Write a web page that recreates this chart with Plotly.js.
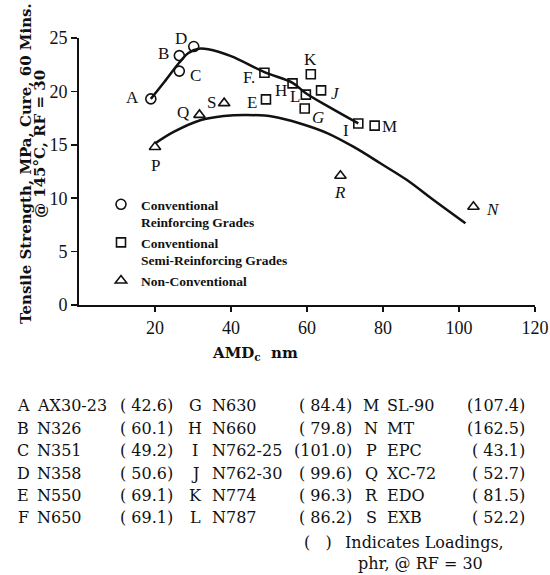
<!DOCTYPE html>
<html>
<head>
<meta charset="utf-8">
<script src="https://cdn.plot.ly/plotly-3.0.1.min.js"></script>
<style>
  html, body { margin: 0; padding: 0; background: #fff; }
  #chart { width: 550px; height: 575px; }
</style>
</head>
<body>
<div id="chart"></div>
<script>
// ---------- DATA ----------
const letters  = ['A','B','C','D','E','F','G','H','I','J','K','L','M','N','P','Q','R','S'];
const grades   = ['AX30-23','N326','N351','N358','N550','N650','N630','N660','N762-25','N762-30','N774','N787','SL-90','MT','EPC','XC-72','EDO','EXB'];
const loadings = ['42.6','60.1','49.2','50.6','69.1','69.1','84.4','79.8','101.0','99.6','96.3','86.2','107.4','162.5','43.1','52.7','81.5','52.2'];
const amd      = [18.9, 26.4, 26.4, 30.2, 49.2, 48.8, 59.4, 56.2, 73.5, 63.7, 61.0, 59.7, 77.8, 103.8, 20.0, 31.7, 68.8, 38.2];
const tensile  = [19.3, 23.35, 21.9, 24.2, 19.25, 21.75, 18.4, 20.75, 17.0, 20.1, 21.6, 19.7, 16.8, 9.2, 14.8, 17.8, 12.1, 18.9];
const group    = ['rf','rf','rf','rf','srf','srf','srf','srf','srf','srf','srf','srf','srf','nc','nc','nc','nc','nc'];
const groupNames = {
  rf:  'Conventional<br>Reinforcing Grades',
  srf: 'Conventional<br>Semi-Reinforcing Grades',
  nc:  'Non-Conventional'
};
const pointLabels = {F: 'F.', G: '<i>G</i>', J: '<i>J</i>', R: '<i>R</i>', N: '<i>N</i>'};

// trend curves
const upperX = [18.9, 22.5, 26.4, 28.8, 31.5, 34, 40, 48.8, 56.2, 59.6, 66, 73.5];
const upperY = [19.3, 20.9, 22.7, 23.6, 24.0, 23.95, 23.3, 21.8, 20.8, 19.85, 18.5, 17.0];
const lowerX = [20.1, 24.9, 31.9, 38.1, 44.2, 51.2, 58.2, 65.3, 72.3, 79.3, 86.3, 93.3, 101.7];
const lowerY = [15.14, 16.2, 17.3, 17.7, 17.8, 17.63, 17.0, 16.1, 14.8, 13.27, 11.7, 9.83, 7.65];

const xTicks = [20, 40, 60, 80, 100, 120];
const yTicks = [0, 5, 10, 15, 20, 25];

// ---------- STYLE ----------
const INK = '#111';
const symbols = {rf: 'circle-open', srf: 'square-open', nc: 'triangle-up-open'};
const sizes = {rf: 10, srf: 9, nc: 10};
// label offsets in pixels (dx right, dy down) relative to marker
const labelOff = {A:[-18,-1],B:[-16,-2],C:[16,4],D:[-13,-8],E:[-14,3],F:[-15,5],G:[13,9],H:[-12,7],
  I:[-12,7],J:[14,3],K:[0,-15],L:[-11,2],M:[15,1],N:[20,3],P:[0,19],Q:[-16,-2],R:[0,17],S:[-13,-1]};

const M = {l: 79, r: 15, t: 38, b: 270};
const W = 550 - M.l - M.r, H = 575 - M.t - M.b;
function px(x) { return (x - M.l) / W; }
function py(y) { return (575 - M.b - y) / H; }

const traces = [];
traces.push({x: upperX, y: upperY, mode: 'lines', line: {color: INK, width: 2.5, shape: 'spline'}, showlegend: false, hoverinfo: 'skip'});
traces.push({x: lowerX, y: lowerY, mode: 'lines', line: {color: INK, width: 2.5, shape: 'spline'}, showlegend: false, hoverinfo: 'skip'});

['rf','srf','nc'].forEach(g => {
  const idx = letters.map((_, i) => i).filter(i => group[i] === g);
  traces.push({
    x: idx.map(i => amd[i]),
    y: idx.map(i => tensile[i]),
    mode: 'markers',
    name: groupNames[g],
    cliponaxis: false,
    marker: {symbol: symbols[g], size: sizes[g], color: INK, line: {width: 1.6, color: INK}}
  });
});

// ---------- ANNOTATIONS ----------
const ann = [];
// point labels
letters.forEach((L, i) => {
  const o = labelOff[L];
  ann.push({xref: 'x', yref: 'y', x: amd[i], y: tensile[i], text: pointLabels[L] || L,
    showarrow: false, xanchor: 'center', yanchor: 'middle', xshift: o[0], yshift: -o[1],
    font: {family: 'Liberation Serif', size: 17, color: INK}});
});
const tFont = {family: 'DejaVu Serif', size: 15, color: INK};
// y axis title (two rotated lines)
ann.push({xref:'paper', yref:'paper', x: px(26), y: py(164), text: '<b>Tensile Strength, MPa, Cure, 60 Mins.</b>',
  textangle: -90, showarrow: false, xanchor: 'center', yanchor: 'middle', font: tFont});
ann.push({xref:'paper', yref:'paper', x: px(40), y: py(144), text: '<b>@ 145°C, RF = 30</b>',
  textangle: -90, showarrow: false, xanchor: 'center', yanchor: 'middle', font: tFont});
// x axis title
ann.push({xref:'paper', yref:'paper', x: px(255), y: py(353), text: '<b>AMD<sub>c</sub>  nm</b>',
  showarrow: false, xanchor: 'center', yanchor: 'middle', font: tFont});

// table of grades
const cols = [
  {letter: 23, name: 35, close: 175},
  {letter: 195, name: 210, close: 354},
  {letter: 371, name: 385, close: 527}
];
const rowsY = [405, 428, 450, 473, 495, 517];
const tabFont = {family: 'DejaVu Serif', size: 16, color: INK};
letters.forEach((L, i) => {
  const c = cols[Math.floor(i / 6)], yy = py(rowsY[i % 6]);
  const val = (parseFloat(loadings[i]) < 100 ? '( ' : '(') + loadings[i] + ')';
  ann.push({xref:'paper', yref:'paper', x: px(c.letter), y: yy, text: L, showarrow:false, xanchor:'center', yanchor:'middle', font: tabFont});
  ann.push({xref:'paper', yref:'paper', x: px(c.name), y: yy, text: grades[i], showarrow:false, xanchor:'left', yanchor:'middle', font: tabFont});
  ann.push({xref:'paper', yref:'paper', x: px(c.close), y: yy, text: val, showarrow:false, xanchor:'right', yanchor:'middle', font: tabFont});
});
ann.push({xref:'paper', yref:'paper', x: px(302), y: py(542), text: '(&nbsp;&nbsp;&nbsp;)', showarrow:false, xanchor:'left', yanchor:'middle', font: tabFont});
ann.push({xref:'paper', yref:'paper', x: px(424), y: py(542), text: 'Indicates Loadings,', showarrow:false, xanchor:'center', yanchor:'middle', font: tabFont});
ann.push({xref:'paper', yref:'paper', x: px(420), y: py(563), text: 'phr, @ RF = 30', showarrow:false, xanchor:'center', yanchor:'middle', font: tabFont});

const layout = {
  width: 550, height: 575,
  margin: M,
  paper_bgcolor: '#fff', plot_bgcolor: '#fff',
  showlegend: true,
  legend: {x: px(101), y: py(189), xanchor: 'left', yanchor: 'top', bgcolor: 'rgba(0,0,0,0)',
    font: {family: 'Liberation Serif', size: 13.5, color: INK, weight: 'bold'}, valign: 'top', tracegroupgap: 0},
  xaxis: {range: [0, 120], tickvals: xTicks, ticks: 'outside', ticklen: 5, tickwidth: 1.5, tickcolor: INK,
    showline: true, linecolor: INK, linewidth: 2, showgrid: false, zeroline: false,
    tickfont: {family: 'Liberation Serif', size: 18, color: INK}},
  yaxis: {range: [0, 25], tickvals: yTicks, ticks: 'outside', ticklen: 6, tickwidth: 1.5, tickcolor: INK,
    showline: true, linecolor: INK, linewidth: 2, showgrid: false, zeroline: false,
    tickfont: {family: 'Liberation Serif', size: 18, color: INK}},
  annotations: ann
};

Plotly.newPlot('chart', traces, layout, {displayModeBar: false, staticPlot: true});
</script>
</body>
</html>
